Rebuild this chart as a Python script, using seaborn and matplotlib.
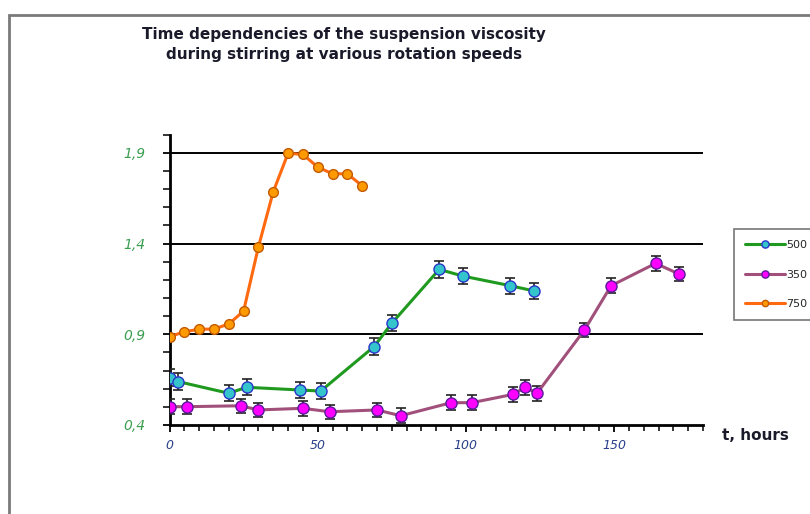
import matplotlib
matplotlib.use("Agg")
import matplotlib.pyplot as plt
from matplotlib.patches import Rectangle
from matplotlib.ticker import MultipleLocator, FuncFormatter
import seaborn as sns
import pandas as pd

# Rotation speed 750
t_750 = [0, 5, 10, 15, 20, 25, 30, 35, 40, 45, 50, 55, 60, 65]
v_750 = [0.887, 0.914, 0.928, 0.929, 0.957, 1.028, 1.382, 1.686, 1.898, 1.892,
         1.822, 1.785, 1.785, 1.719]

# Rotation speed 500
t_500 = [0, 3, 20, 26, 44, 51, 69, 75, 91, 99, 115, 123]
v_500 = [0.661, 0.639, 0.575, 0.608, 0.593, 0.587, 0.832, 0.961, 1.258, 1.221,
         1.168, 1.139]
err_500 = 0.045

# Rotation speed 350
t_350 = [0, 6, 24, 30, 45, 54, 70, 78, 95, 102, 116, 120, 124, 140, 149, 164, 172]
v_350 = [0.501, 0.501, 0.506, 0.483, 0.492, 0.473, 0.483, 0.451, 0.523, 0.523,
         0.569, 0.608, 0.575, 0.924, 1.168, 1.291, 1.232]
err_350 = 0.04

y_ticks = [0.4, 0.9, 1.4, 1.9]
x_ticks = [0, 50, 100, 150]

sns.set_style("white")
plt.rcParams["font.family"] = ["DejaVu Sans"]

fig = plt.figure(figsize=(8.10, 5.14), dpi=100)
ax = fig.add_axes([169.5 / 810, 89 / 514, (703 - 169.5) / 810, (425 - 134.8) / 514])

# outer frame of the chart area
fig.patches.append(Rectangle((9 / 810, -0.1), 1.2, (514 - 15) / 514 + 0.1,
                             transform=fig.transFigure, fill=False,
                             edgecolor="#7a7a7a", linewidth=2.0, zorder=0))

# horizontal reference lines
for yv in y_ticks[1:]:
    ax.axhline(yv, color="black", linewidth=1.4, zorder=1)

df_500 = pd.DataFrame({"t": t_500, "v": v_500})
df_350 = pd.DataFrame({"t": t_350, "v": v_350})
df_750 = pd.DataFrame({"t": t_750, "v": v_750})

c500_line, c500_face, c500_edge = "#1f9a1f", "#33c4cc", "#2a35c8"
c350_line, c350_face, c350_edge = "#a0507a", "#ff00ff", "#5a1a9a"
c750_line, c750_face, c750_edge = "#ff6a10", "#ff9a00", "#c25a00"

ax.errorbar(t_500, v_500, yerr=err_500, fmt="none", ecolor="#222222",
            elinewidth=1.2, capsize=3.6, capthick=1.2, zorder=3)
ax.errorbar(t_350, v_350, yerr=err_350, fmt="none", ecolor="#222222",
            elinewidth=1.2, capsize=3.6, capthick=1.2, zorder=3)

sns.lineplot(data=df_500, x="t", y="v", ax=ax, color=c500_line, linewidth=2.2,
             marker="o", markersize=8, markerfacecolor=c500_face,
             markeredgecolor=c500_edge, markeredgewidth=1.0, label="500",
             zorder=4, sort=False)
sns.lineplot(data=df_350, x="t", y="v", ax=ax, color=c350_line, linewidth=2.2,
             marker="o", markersize=8, markerfacecolor=c350_face,
             markeredgecolor=c350_edge, markeredgewidth=1.0, label="350",
             zorder=4, sort=False)
sns.lineplot(data=df_750, x="t", y="v", ax=ax, color=c750_line, linewidth=2.2,
             marker="o", markersize=7, markerfacecolor=c750_face,
             markeredgecolor=c750_edge, markeredgewidth=1.0, label="750",
             zorder=4, sort=False)

ax.set_xlim(0, 180)
ax.set_ylim(0.4, 2.0)
ax.set_xlabel("")
ax.set_ylabel("")

for side in ("top", "right"):
    ax.spines[side].set_visible(False)
for side in ("left", "bottom"):
    ax.spines[side].set_color("black")
    ax.spines[side].set_linewidth(2.0)

ax.xaxis.set_major_locator(MultipleLocator(50))
ax.xaxis.set_minor_locator(MultipleLocator(5))
ax.yaxis.set_major_locator(MultipleLocator(0.5))
ax.yaxis.set_minor_locator(MultipleLocator(0.1))
ax.set_xticks(x_ticks)
ax.set_yticks(y_ticks)
ax.yaxis.set_major_formatter(FuncFormatter(lambda v, p: f"{v:.1f}".replace(".", ",")))
ax.tick_params(axis="both", which="both", direction="out", color="black",
               bottom=True, left=True)
ax.tick_params(axis="x", which="major", length=5, width=1.3, pad=5,
               labelsize=9, labelcolor="#2a3f8a")
ax.tick_params(axis="x", which="minor", length=4, width=1.1)
ax.tick_params(axis="y", which="major", length=5, width=1.3, pad=12,
               labelsize=10, labelcolor="#3a9e50")
ax.tick_params(axis="y", which="minor", length=5, width=1.1)
for lbl in ax.get_xticklabels() + ax.get_yticklabels():
    lbl.set_fontstyle("italic")

ax.get_legend().remove()
handles, labels = ax.get_legend_handles_labels()
leg = fig.legend(handles, labels, loc="upper left",
                 bbox_to_anchor=(734 / 810, 1 - 229 / 514),
                 frameon=True, fancybox=False, fontsize=8,
                 handlelength=3.6, handletextpad=0.1, labelspacing=1.75,
                 borderpad=1.0, borderaxespad=0, markerscale=0.65)
leg.get_frame().set_edgecolor("#555555")
leg.get_frame().set_linewidth(1.2)

fig.text(344 / 810, 1 - 35 / 514, "Time dependencies of the suspension viscosity",
         ha="center", va="center", fontsize=11, fontweight="bold", color="#1a1a2a")
fig.text(344 / 810, 1 - 55 / 514, "during stirring at various rotation speeds",
         ha="center", va="center", fontsize=11, fontweight="bold", color="#1a1a2a")
fig.text(722 / 810, 1 - 436 / 514, "t, hours", ha="left", va="center",
         fontsize=11, fontweight="bold", color="#1a1a2a")

fig.savefig("out.png", dpi=100, facecolor="white")
